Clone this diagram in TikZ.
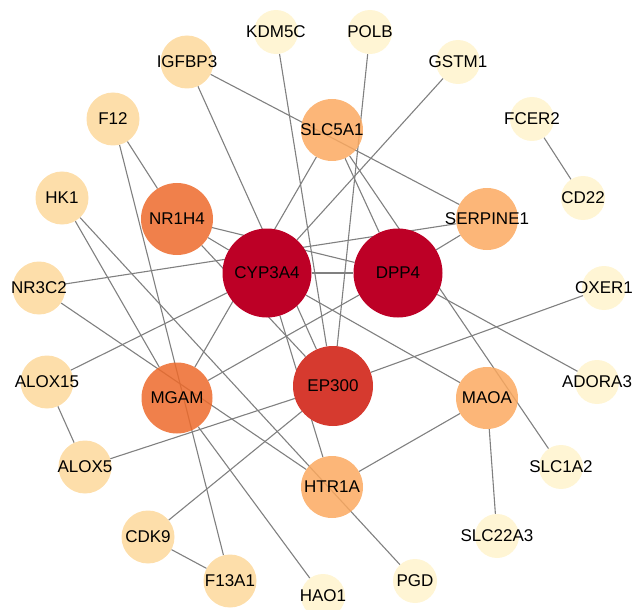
\documentclass[tikz,border=0pt]{standalone}
\usepackage{fontspec}
\setmainfont{Liberation Sans}
\usetikzlibrary{backgrounds}

\definecolor{hubred}{HTML}{BD0026}
\definecolor{epred}{HTML}{D63A2F}
\definecolor{midorange}{HTML}{ED6A2B}
\definecolor{loworange}{HTML}{FBA960}
\definecolor{lightpeach}{HTML}{FDD89B}
\definecolor{palecream}{HTML}{FFF3CC}
\definecolor{edgegray}{HTML}{808080}

\begin{document}
\begin{tikzpicture}[x=1pt, y=-1pt, font=\fontsize{17}{20}\selectfont]
  % A gene node takes its fill colour and its diameter
  \tikzset{
    gene/.style n args={2}{circle, inner sep=0pt, fill=#1,
      minimum size=#2, text=black, text opacity=1},
    link/.style={draw=edgegray, line width=1.1pt},
  }

  \useasboundingbox (0,0) rectangle (633,610);

  % name / x / y / colour / diameter / opacity / label
  \foreach \gn/\x/\y/\col/\dia/\op/\lab in {
    kdm/276/32/palecream/44/.85/KDM5C,
    polb/370/32/palecream/44/.85/POLB,
    igf/187/62/lightpeach/53/.85/IGFBP3,
    gst/458/62/palecream/44/.85/GSTM1,
    f12/113/119/lightpeach/53/.85/F12,
    slc5/332/130/loworange/62/.85/SLC5A1,
    fce/532/119/palecream/44/.85/FCER2,
    hk1/62/198/lightpeach/53/.85/HK1,
    cd22/583/198/palecream/44/.85/CD22,
    nr1/177/219/midorange/72/.85/NR1H4,
    serp/487/219/loworange/62/.85/SERPINE1,
    cyp/267/273/hubred/89/1/CYP3A4,
    dpp/398/273/hubred/89/1/DPP4,
    nr3/39/288/lightpeach/53/.85/NR3C2,
    oxer/604/288/palecream/44/.85/OXER1,
    alox15/47/382/lightpeach/53/.85/ALOX15,
    ado/597/382/palecream/44/.85/ADORA3,
    ep/333/386/epred/80/1/EP300,
    mgam/177/398/midorange/71/.85/MGAM,
    maoa/487/398/loworange/62/.85/MAOA,
    alox5/85/467/lightpeach/53/.85/ALOX5,
    slc1/561/467/palecream/44/.85/SLC1A2,
    htr/332/487/loworange/62/.85/HTR1A,
    cdk/148/537/lightpeach/53/.85/CDK9,
    slc22/497/536/palecream/44/.85/SLC22A3,
    f13/230/581/lightpeach/53/.85/F13A1,
    pgd/415/581/palecream/44/.85/PGD,
    hao/323/596/palecream/44/.85/HAO1}{
    \node[gene={\col}{\dia pt}, fill opacity=\op] (\gn) at (\x,\y) {\makebox[0pt]{\lab}};
  }

  % interactions, drawn behind the genes
  \begin{scope}[on background layer]
    \foreach \a/\b in {
      fce/cd22, alox15/alox5, cdk/f13, maoa/slc22, maoa/htr,
      igf/serp, igf/ep, f12/nr1, f12/f13, hk1/mgam, hk1/pgd,
      nr3/serp, nr3/htr, alox15/cyp, alox5/ep, ep/oxer, cdk/ep,
      kdm/ep, polb/ep, gst/cyp, slc5/mgam, slc5/dpp, slc5/slc1,
      nr1/cyp, nr1/dpp, nr1/ep, cyp/dpp, cyp/htr, cyp/maoa,
      dpp/serp, dpp/mgam, dpp/ado, mgam/hao}{
      \draw[link] (\a) -- (\b);
    }
  \end{scope}
\end{tikzpicture}
\end{document}
